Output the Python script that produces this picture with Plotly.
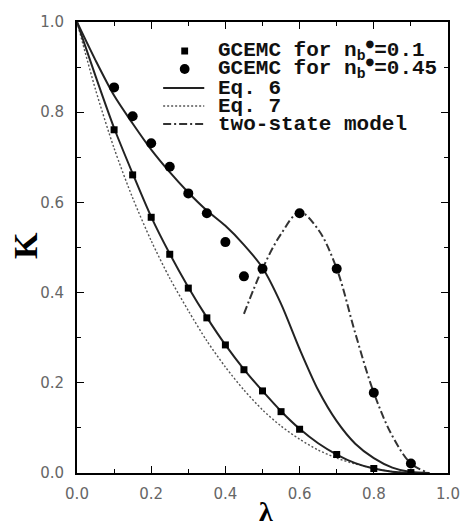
import plotly.graph_objects as go

# ---- data ----
lam_sq = [0.1, 0.15, 0.2, 0.25, 0.3, 0.35, 0.4, 0.45, 0.5, 0.55, 0.6, 0.7, 0.8, 0.9]
K_sq = [0.761, 0.661, 0.567, 0.485, 0.410, 0.344, 0.284, 0.229, 0.182, 0.136, 0.097, 0.041, 0.010, 0.001]

lam_ci = [0.1, 0.15, 0.2, 0.25, 0.3, 0.35, 0.4, 0.45, 0.5, 0.6, 0.7, 0.8, 0.9]
K_ci = [0.855, 0.791, 0.731, 0.679, 0.620, 0.576, 0.512, 0.436, 0.453, 0.576, 0.453, 0.178, 0.021]

lam_eq = [0.0, 0.05, 0.1, 0.15, 0.2, 0.25, 0.3, 0.35, 0.4, 0.45, 0.5, 0.55, 0.6, 0.65, 0.7, 0.75, 0.8, 0.85, 0.9, 0.95]
K_eq6_low = [1.0, 0.880, 0.765, 0.664, 0.568, 0.486, 0.412, 0.345, 0.284, 0.230, 0.182, 0.137, 0.098, 0.066, 0.041, 0.022, 0.010, 0.003, 0.0, 0.0]
K_eq6_high = [1.0, 0.915, 0.837, 0.775, 0.717, 0.667, 0.622, 0.582, 0.548, 0.506, 0.455, 0.375, 0.275, 0.184, 0.115, 0.065, 0.033, 0.012, 0.002, 0.0]
K_eq7 = [1.0, 0.850, 0.720, 0.610, 0.515, 0.432, 0.360, 0.293, 0.235, 0.184, 0.140, 0.104, 0.075, 0.051, 0.033, 0.020, 0.010, 0.003, 0.0, 0.0]

lam_ts = [0.45, 0.5, 0.55, 0.6, 0.65, 0.7, 0.75, 0.8, 0.85, 0.9, 0.94]
K_ts = [0.353, 0.453, 0.530, 0.578, 0.540, 0.453, 0.310, 0.178, 0.082, 0.021, 0.003]

x_ticks = [0.0, 0.2, 0.4, 0.6, 0.8, 1.0]
y_ticks = [0.0, 0.2, 0.4, 0.6, 0.8, 1.0]
tick_text = ["0.0", "0.2", "0.4", "0.6", "0.8", "1.0"]

DOT = '<sup><span style="font-family:DejaVu Sans;font-size:10px">●</span></sup>'
legend_labels = [
    "GCEMC for n<sub>b</sub>" + DOT + "=0.1",
    "GCEMC for n<sub>b</sub>" + DOT + "=0.45",
    "Eq. 6",
    "Eq. 7",
    "two-state model",
]

# ---- figure ----
W, H = 472, 528
L, R, T, B = 77, 16, 22, 55
pw, ph = W - L - R, H - T - B

def px2paper(x, y):
    return (x - L) / pw, (H - B - y) / ph

fig = go.Figure()
fig.add_trace(go.Scatter(x=lam_eq, y=K_eq7, mode="lines", line=dict(color="#555", width=1.4, dash="2px,2px", shape="spline", smoothing=0.8), showlegend=False))
fig.add_trace(go.Scatter(x=lam_eq, y=K_eq6_low, mode="lines", line=dict(color="#222", width=2, shape="spline", smoothing=0.8), showlegend=False))
fig.add_trace(go.Scatter(x=lam_eq, y=K_eq6_high, mode="lines", line=dict(color="#222", width=2, shape="spline", smoothing=0.8), showlegend=False))
fig.add_trace(go.Scatter(x=lam_ts, y=K_ts, mode="lines", line=dict(color="#333", width=2, dash="8px,3px,2px,3px", shape="spline"), showlegend=False))
fig.add_trace(go.Scatter(x=lam_sq, y=K_sq, mode="markers", marker=dict(symbol="square", size=7, color="black"), showlegend=False))
fig.add_trace(go.Scatter(x=lam_ci, y=K_ci, mode="markers", marker=dict(symbol="circle", size=10, color="black"), showlegend=False))

axis_common = dict(
    range=[0, 1], showgrid=False, zeroline=False, showline=True, linecolor="black", linewidth=2,
    mirror="allticks", ticks="inside", ticklen=7, tickwidth=1.3, tickcolor="black",
    tickvals=x_ticks, ticktext=tick_text,
    tickfont=dict(family="DejaVu Sans", size=15, color="#666"),
    minor=dict(dtick=0.1, ticks="inside", ticklen=4, tickcolor="black", tickwidth=1.2),
)
fig.update_xaxes(**axis_common, ticklabelstandoff=6)
fig.update_yaxes(**axis_common, ticklabelstandoff=8)

# custom legend (decoration)
rows_y = [51, 69, 88, 106, 124]
shapes = []
sx, sy = px2paper(187, rows_y[0])
dx, dy = 3.5 / pw, 3.5 / ph
shapes.append(dict(type="rect", xref="paper", yref="paper", x0=sx - dx, x1=sx + dx, y0=sy - dy, y1=sy + dy, fillcolor="black", line=dict(width=0)))
cx, cy = px2paper(187, rows_y[1])
rx, ry = 5 / pw, 5 / ph
shapes.append(dict(type="circle", xref="paper", yref="paper", x0=cx - rx, x1=cx + rx, y0=cy - ry, y1=cy + ry, fillcolor="black", line=dict(width=0)))
styles = [dict(color="#222", width=2), dict(color="#555", width=1.4, dash="2px,2px"), dict(color="#333", width=2, dash="8px,3px,2px,3px")]
for yy, st in zip(rows_y[2:], styles):
    x0, y0 = px2paper(165, yy)
    x1, _ = px2paper(207, yy)
    shapes.append(dict(type="line", xref="paper", yref="paper", x0=x0, x1=x1, y0=y0, y1=y0, line=st))

annotations = []
for yy, lab in zip(rows_y, legend_labels):
    ax_, ay_ = px2paper(219, yy)
    annotations.append(dict(x=ax_, y=ay_, xref="paper", yref="paper", text=lab, showarrow=False,
                            xanchor="left", yanchor="middle",
                            font=dict(family="Liberation Mono", size=21, color="#111", weight="bold")))

kx, ky = px2paper(24, 246)
annotations.append(dict(x=kx, y=ky, xref="paper", yref="paper", text="K", showarrow=False, textangle=-90,
                        xanchor="center", yanchor="middle",
                        font=dict(family="Liberation Serif", size=34, color="black", weight="bold")))
lx, ly = px2paper(270, 511)
annotations.append(dict(x=lx, y=ly, xref="paper", yref="paper", text="λ", showarrow=False,
                        xanchor="center", yanchor="middle",
                        font=dict(family="Liberation Serif", size=28, color="black", weight="bold")))

fig.update_layout(
    width=W, height=H, margin=dict(l=L, r=R, t=T, b=B),
    paper_bgcolor="white", plot_bgcolor="white",
    shapes=shapes, annotations=annotations, showlegend=False,
)
fig.write_html("out.html")
